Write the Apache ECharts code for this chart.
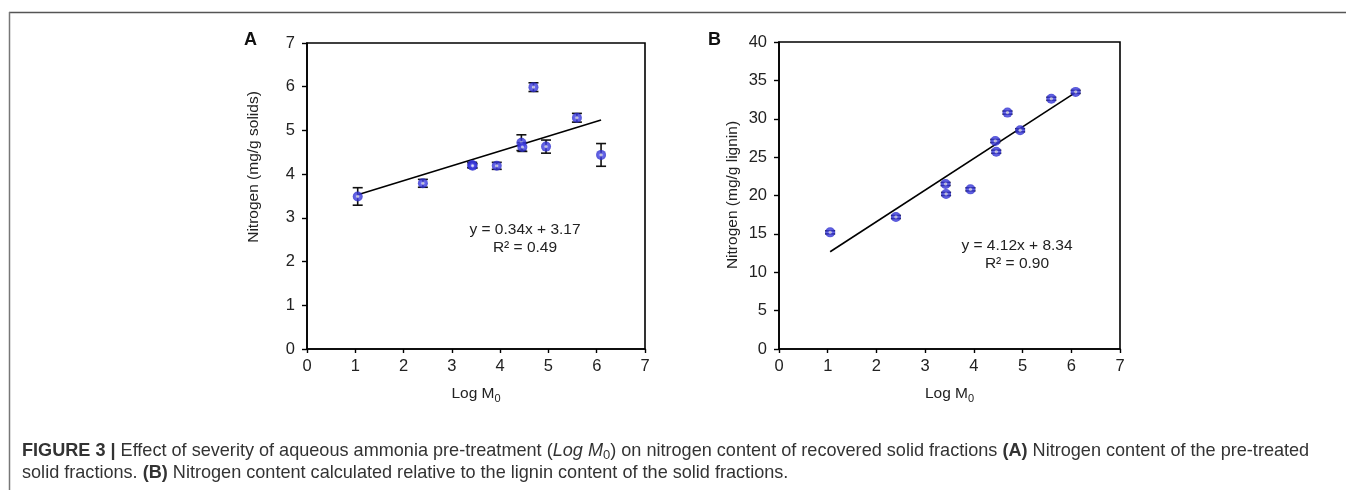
<!DOCTYPE html>
<html>
<head>
<meta charset="utf-8">
<script src="https://cdn.jsdelivr.net/npm/echarts@6/dist/echarts.min.js"></script>
<style>
html,body{margin:0;padding:0;background:#fff;}
#chart{width:1346px;height:490px;}
</style>
</head>
<body>
<div id="chart"></div>
<script>
// ---- Data ----
var logM0      = [1.05, 2.40, 3.42, 3.43, 3.93, 4.44, 4.46, 4.69, 4.95, 5.59, 6.09];
var nSolids    = [3.49, 3.79, 4.21, 4.19, 4.19, 4.72, 4.62, 5.99, 4.63, 5.29, 4.44];
var nSolidsErr = [0.20, 0.09, 0.06, 0.05, 0.08, 0.18, 0.10, 0.10, 0.15, 0.10, 0.26];
var nLignin    = [15.2, 17.2, 21.5, 20.2, 20.8, 27.1, 25.7, 30.8, 28.5, 32.6, 33.5];
var nLigninErr = [0.2, 0.2, 0.2, 0.2, 0.2, 0.2, 0.2, 0.2, 0.2, 0.2, 0.2];
var trendA = [[1.05, 3.53], [6.09, 5.24]];
var trendB = [[1.05, 12.67], [6.09, 33.43]];
var eqA = ['y = 0.34x + 3.17', 'R² = 0.49'];
var eqB = ['y = 4.12x + 8.34', 'R² = 0.90'];
var yNameA = 'Nitrogen (mg/g solids)';
var yNameB = 'Nitrogen (mg/g lignin)';

function pts(xs, ys){ return xs.map(function(x,i){ return [x, ys[i]]; }); }
function errPts(xs, ys, es){ return xs.map(function(x,i){ return [x, ys[i]-es[i], ys[i]+es[i]]; }); }

var FONT = '"Liberation Sans", Arial, sans-serif';
var markerColor = {
  type:'radial', x:0.5, y:0.5, r:0.5,
  colorStops:[{offset:0,color:'#ffffff'},{offset:0.2,color:'#d0d0ff'},{offset:0.4,color:'#4444e6'},{offset:1,color:'#2a2acc'}]
};

function errRender(params, api){
  var x = api.value(0), lo = api.value(1), hi = api.value(2);
  var pLo = api.coord([x, lo]), pHi = api.coord([x, hi]);
  var hw = 5;
  var st = {stroke:'#111', lineWidth:1.6};
  return {type:'group', children:[
    {type:'line', shape:{x1:pLo[0],y1:pLo[1],x2:pHi[0],y2:pHi[1]}, style:st},
    {type:'line', shape:{x1:pLo[0]-hw,y1:pLo[1],x2:pLo[0]+hw,y2:pLo[1]}, style:st},
    {type:'line', shape:{x1:pHi[0]-hw,y1:pHi[1],x2:pHi[0]+hw,y2:pHi[1]}, style:st}
  ]};
}

function xAxisDef(gi){
  return {
    type:'value', gridIndex:gi, min:0, max:7, interval:1,
    name:'Log M{sub|0}', nameLocation:'middle', nameGap:35,
    nameTextStyle:{fontFamily:FONT, fontSize:15.5, color:'#222',
      rich:{sub:{fontFamily:FONT, fontSize:11, color:'#222', verticalAlign:'bottom', padding:[9,0,0,0]}}},
    axisLine:{show:true, onZero:false, lineStyle:{color:'#000', width:1.6}},
    axisTick:{show:true, inside:false, length:4, lineStyle:{color:'#000', width:1.4}},
    axisLabel:{fontFamily:FONT, fontSize:16.5, color:'#222', margin:9},
    splitLine:{show:false}
  };
}
function yAxisDef(gi, max, interval){
  return {
    type:'value', gridIndex:gi, min:0, max:max, interval:interval,
    axisLine:{show:true, onZero:false, lineStyle:{color:'#000', width:1.6}},
    axisTick:{show:true, inside:false, length:5, lineStyle:{color:'#000', width:1.4}},
    axisLabel:{fontFamily:FONT, fontSize:16.5, color:'#222', margin:12},
    splitLine:{show:false}
  };
}

var chart = echarts.init(document.getElementById('chart'), null, {renderer:'canvas'});
var CAP = 18.1;
var option = {
  backgroundColor:'#fff',
  animation:false,
  grid:[
    {left:307, top:43, width:338, height:306, show:true, borderColor:'#000', borderWidth:1.6, backgroundColor:'transparent'},
    {left:779, top:42, width:341, height:307, show:true, borderColor:'#000', borderWidth:1.6, backgroundColor:'transparent'}
  ],
  xAxis:[xAxisDef(0), xAxisDef(1)],
  yAxis:[yAxisDef(0, 7, 1), yAxisDef(1, 40, 5)],
  series:[
    {type:'line', xAxisIndex:0, yAxisIndex:0, data:trendA, symbol:'none', lineStyle:{color:'#000', width:1.6}, z:2},
    {type:'custom', xAxisIndex:0, yAxisIndex:0, data:errPts(logM0, nSolids, nSolidsErr), renderItem:errRender, z:3, encode:{x:0, y:[1,2]}},
    {type:'scatter', xAxisIndex:0, yAxisIndex:0, data:pts(logM0, nSolids), symbol:'circle', symbolSize:10, itemStyle:{color:markerColor}, z:4},
    {type:'line', xAxisIndex:1, yAxisIndex:1, data:trendB, symbol:'none', lineStyle:{color:'#000', width:1.6}, z:2},
    {type:'custom', xAxisIndex:1, yAxisIndex:1, data:errPts(logM0, nLignin, nLigninErr), renderItem:errRender, z:3, encode:{x:0, y:[1,2]}},
    {type:'scatter', xAxisIndex:1, yAxisIndex:1, data:pts(logM0, nLignin), symbol:'circle', symbolSize:10, itemStyle:{color:markerColor}, z:4}
  ],
  graphic:[
    {type:'line', shape:{x1:9, y1:12.5, x2:1346, y2:12.5}, style:{stroke:'#555', lineWidth:1.5}, silent:true},
    {type:'line', shape:{x1:9.5, y1:12, x2:9.5, y2:490}, style:{stroke:'#777', lineWidth:1.5}, silent:true},
    {type:'text', left:244, top:31, style:{text:'A', font:'bold 18px ' + FONT, fill:'#111'}},
    {type:'text', left:708, top:31, style:{text:'B', font:'bold 18px ' + FONT, fill:'#111'}},
    {type:'text', x:254, y:167, rotation:Math.PI/2, style:{text:yNameA, font:'15.5px ' + FONT, fill:'#222', textAlign:'center', textVerticalAlign:'middle'}},
    {type:'text', x:733, y:195, rotation:Math.PI/2, style:{text:yNameB, font:'15.5px ' + FONT, fill:'#222', textAlign:'center', textVerticalAlign:'middle'}},
    {type:'text', x:525, y:230, style:{text:eqA[0], font:'15.5px ' + FONT, fill:'#222', textAlign:'center', textVerticalAlign:'middle'}},
    {type:'text', x:525, y:248, style:{text:eqA[1], font:'15.5px ' + FONT, fill:'#222', textAlign:'center', textVerticalAlign:'middle'}},
    {type:'text', x:1017, y:246, style:{text:eqB[0], font:'15.5px ' + FONT, fill:'#222', textAlign:'center', textVerticalAlign:'middle'}},
    {type:'text', x:1017, y:264, style:{text:eqB[1], font:'15.5px ' + FONT, fill:'#222', textAlign:'center', textVerticalAlign:'middle'}},
    {type:'text', left:22, top:442, style:{
      text:'{b|FIGURE 3 |} Effect of severity of aqueous ammonia pre-treatment ({i|Log M}{isub|0}) on nitrogen content of recovered solid fractions {b|(A)} Nitrogen content of the pre-treated',
      font:CAP + 'px ' + FONT, fill:'#333',
      rich:{
        b:{fontFamily:FONT, fontSize:CAP, fontWeight:'bold', color:'#333'},
        i:{fontFamily:FONT, fontSize:CAP, fontStyle:'italic', color:'#333'},
        isub:{fontFamily:FONT, fontSize:13, color:'#333', verticalAlign:'bottom', padding:[8,0,0,0]}
      }
    }},
    {type:'text', left:22, top:464, style:{
      text:'solid fractions. {b|(B)} Nitrogen content calculated relative to the lignin content of the solid fractions.',
      font:CAP + 'px ' + FONT, fill:'#333',
      rich:{ b:{fontFamily:FONT, fontSize:CAP, fontWeight:'bold', color:'#333'} }
    }}
  ]
};
chart.setOption(option);
</script>
</body>
</html>
